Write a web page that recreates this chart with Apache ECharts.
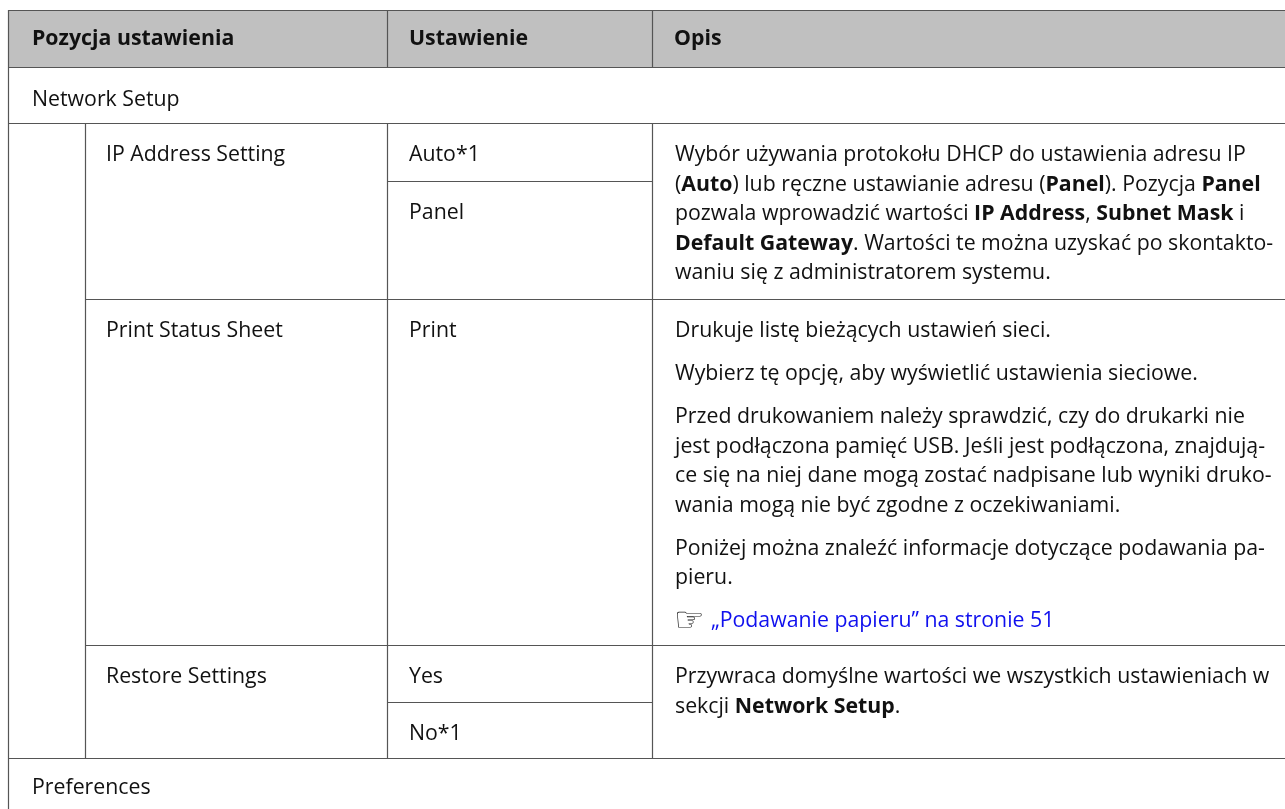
<!DOCTYPE html>
<html>
<head>
<meta charset="utf-8">
<script src="https://cdn.jsdelivr.net/npm/echarts@6/dist/echarts.min.js"></script>
<style>
html,body{margin:0;padding:0;background:#fff;}
#main{width:1285px;height:809px;}
</style>
</head>
<body>
<div id="main"></div>
<script>
// ---------- table content ----------
const headers = ['Pozycja ustawienia', 'Ustawienie', 'Opis'];
const sectionTitles = ['Network Setup', 'Preferences'];
const itemNames = ['IP Address Setting', 'Print Status Sheet', 'Restore Settings'];
const itemSettings = [['Auto*1', 'Panel'], ['Print'], ['Yes', 'No*1']];
// descriptions: paragraphs -> lines; **text** is bold
const descIP = [[
  'Wybór używania protokołu DHCP do ustawienia adresu IP',
  '(**Auto**) lub ręczne ustawianie adresu (**Panel**). Pozycja **Panel**',
  'pozwala wprowadzić wartości **IP Address**, **Subnet Mask** i',
  '**Default Gateway**. Wartości te można uzyskać po skontakto-',
  'waniu się z administratorem systemu.'
]];
const descPrint = [
  ['Drukuje listę bieżących ustawień sieci.'],
  ['Wybierz tę opcję, aby wyświetlić ustawienia sieciowe.'],
  ['Przed drukowaniem należy sprawdzić, czy do drukarki nie',
   'jest podłączona pamięć USB. Jeśli jest podłączona, znajdują-',
   'ce się na niej dane mogą zostać nadpisane lub wyniki druko-',
   'wania mogą nie być zgodne z oczekiwaniami.'],
  ['Poniżej można znaleźć informacje dotyczące podawania pa-',
   'pieru.']
];
const descRestore = [[
  'Przywraca domyślne wartości we wszystkich ustawieniach w',
  'sekcji **Network Setup**.'
]];
const linkIcon = '☞';
const linkText = '„Podawanie papieru” na stronie 51';

// ---------- layout (positions / styles) ----------
const L = {
  x0: 8, xA: 85, xB: 387, xC: 652, xR: 1285,
  headerTop: 10, headerBottom: 67, sectionBottom: 123,
  itemBottoms: [299, 645, 758],
  splits: [181, null, 702],
  bottom: 809,
  padX: 21, textOff: 32, lineStep: 29.5, paraStep: 43,
  font: '"Open Sans", "Noto Sans", sans-serif', size: 21.3,
  lineColor: '#555555', headerFill: '#c0c0c0', textColor: '#111111', linkColor: '#1010ee'
};

function toRich(s) {
  return s.replace(/\*\*(.+?)\*\*/g, '{b|$1}');
}
function txt(x, y, s, opts) {
  opts = opts || {};
  return {
    type: 'text', x: x, y: y, silent: true,
    style: {
      text: s,
      fontFamily: opts.family || L.font,
      fontSize: opts.size || L.size,
      fontWeight: opts.weight || 'normal',
      fill: opts.color || L.textColor,
      textVerticalAlign: 'middle',
      textAlign: 'left',
      rich: {
        b: { fontFamily: L.font, fontSize: L.size, fontWeight: 'bold', fill: L.textColor }
      }
    }
  };
}
function hline(y, x1, x2) {
  const yy = Math.round(y) + 0.5;
  return { type: 'line', silent: true, shape: { x1: x1, y1: yy, x2: x2, y2: yy }, style: { stroke: L.lineColor, lineWidth: 1.2 } };
}
function vline(x, y1, y2) {
  const xx = Math.round(x) + 0.5;
  return { type: 'line', silent: true, shape: { x1: xx, y1: y1, x2: xx, y2: y2 }, style: { stroke: L.lineColor, lineWidth: 1.2 } };
}

const els = [];
// header background
els.push({ type: 'rect', silent: true, shape: { x: L.x0, y: L.headerTop, width: L.xR - L.x0, height: L.headerBottom - L.headerTop }, style: { fill: L.headerFill } });

// grid lines
const itemTops = [L.sectionBottom].concat(L.itemBottoms.slice(0, -1));
els.push(hline(L.headerTop, L.x0, L.xR));
els.push(hline(L.headerBottom, L.x0, L.xR));
els.push(hline(L.sectionBottom, L.x0, L.xR));
L.itemBottoms.forEach(function (yb, i) {
  els.push(hline(yb, i === L.itemBottoms.length - 1 ? L.x0 : L.xA, L.xR));
  if (L.splits[i]) els.push(hline(L.splits[i], L.xB, L.xC));
});
els.push(vline(L.x0, L.headerTop, L.bottom));
els.push(vline(L.xB, L.headerTop, L.headerBottom));
els.push(vline(L.xC, L.headerTop, L.headerBottom));
const lastBottom = L.itemBottoms[L.itemBottoms.length - 1];
els.push(vline(L.xA, L.sectionBottom, lastBottom));
els.push(vline(L.xB, L.sectionBottom, lastBottom));
els.push(vline(L.xC, L.sectionBottom, lastBottom));

// header text
const colX = [L.x0, L.xB, L.xC];
headers.forEach(function (h, i) {
  els.push(txt(colX[i] + L.padX + (i === 0 ? 3 : 1), (L.headerTop + L.headerBottom) / 2 + 0.5, h, { weight: 'bold' }));
});

// section titles
els.push(txt(L.x0 + L.padX + 3, L.headerBottom + 33, sectionTitles[0]));
els.push(txt(L.x0 + L.padX + 3, lastBottom + 30, sectionTitles[1]));

// items + settings
const descs = [descIP, descPrint, descRestore];
itemNames.forEach(function (name, i) {
  const top = itemTops[i];
  els.push(txt(L.xA + L.padX, top + L.textOff, name));
  const subTops = [top].concat(L.splits[i] ? [L.splits[i]] : []);
  itemSettings[i].forEach(function (s, j) {
    els.push(txt(L.xB + L.padX + 1, subTops[j] + L.textOff, s));
  });
  // descriptions
  let y = top + L.textOff;
  descs[i].forEach(function (para, p) {
    if (p > 0) y += L.paraStep - L.lineStep;
    para.forEach(function (line, k) {
      if (p > 0 || k > 0) y += L.lineStep;
      els.push(txt(L.xC + L.padX + 2, y, toRich(line)));
    });
  });
  if (i === 1) {
    y += L.paraStep;
    els.push(txt(L.xC + L.padX + 1, y + 1, linkIcon, { family: '"DejaVu Sans", sans-serif', size: 34, color: '#1a1a1a' }));
    els.push(txt(L.xC + L.padX + 38, y, linkText, { color: L.linkColor }));
  }
});

const chart = echarts.init(document.getElementById('main'), null, { renderer: 'canvas' });
chart.setOption({
  backgroundColor: '#ffffff',
  animation: false,
  graphic: { elements: els }
});
</script>
</body>
</html>
